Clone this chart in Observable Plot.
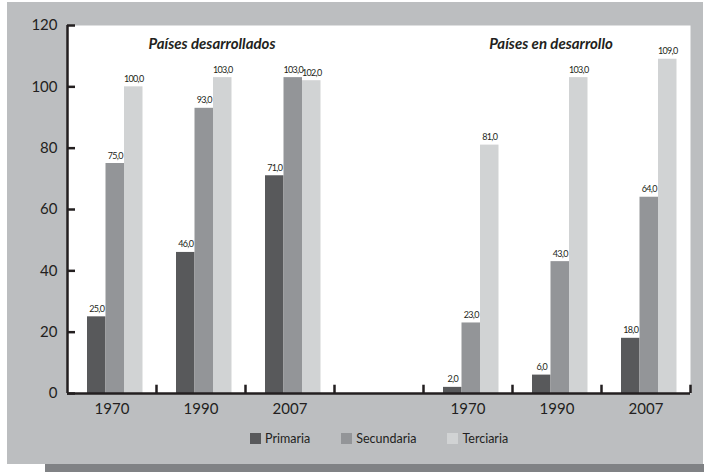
<!DOCTYPE html>
<html>
<head>
<meta charset="utf-8">
<script src="https://cdn.jsdelivr.net/npm/d3@7"></script>
<script src="https://cdn.jsdelivr.net/npm/@observablehq/plot@0.6"></script>
<style>
  html, body { margin: 0; padding: 0; background: #ffffff; }
  #wrap { position: relative; width: 704px; height: 472px; overflow: hidden; font-family: Lato, "Open Sans", sans-serif; }
  #panel { position: absolute; left: 7px; top: 2px; width: 696px; height: 462px; background: #bcbec0; }
  #shadow { position: absolute; left: 45px; top: 464px; width: 659px; height: 8px; background: #808285; }
  #chart { position: absolute; left: 0; top: 0; }
  #chart g[font-size="9"] text { letter-spacing: -0.7px; }
  #legend { position: absolute; left: 250px; top: 431px; display: flex; font-size: 12.5px; color: #231f20; }
  .item { display: flex; align-items: center; margin-right: 31px; }
  .sw { width: 11px; height: 11px; margin-right: 4px; }
</style>
</head>
<body>
<div id="wrap">
  <div id="panel"></div>
  <div id="shadow"></div>
  <div id="chart"></div>
  <div id="legend"></div>
</div>
<script>
// Data
const regions = ["Países desarrollados", "Países en desarrollo"];
const years = ["1970", "1990", "2007"];
const series = ["Primaria", "Secundaria", "Terciaria"];
const colors = ["#58595b", "#939598", "#d1d3d4"];
const primaria   = [25, 46, 71, 2, 6, 18];
const secundaria = [75, 93, 103, 23, 43, 64];
const terciaria  = [100, 103, 102, 81, 103, 109];
const yTicks = [0, 20, 40, 60, 80, 100, 120];

const seriesValues = [primaria, secundaria, terciaria];
const keys = [];
regions.forEach((r, ri) => years.forEach(y => keys.push(r + "|" + y)));
const gapKey = "gap";
const domain = [...keys.slice(0, 3), gapKey, ...keys.slice(3)];
const rows = series.map((s, si) => keys.map((k, i) => ({key: k, series: s, value: seriesValues[si][i]})));

const W = 704, H = 472, mL = 67, mR = 14, mT = 25, mB = 79;
const bw = (W - mL - mR) / domain.length;
const barStart = 20, barW = 18.5;
const fmt = v => v.toFixed(1).replace(".", ",");

const marks = [
  Plot.frame({fill: "white", stroke: null}),
];
rows.forEach((data, si) => {
  const left = barStart + barW * si;
  marks.push(Plot.barY(data, {
    x: "key", y: "value", fill: colors[si],
    insetLeft: left, insetRight: bw - left - barW
  }));
});
rows.forEach((data, si) => {
  const center = barStart + barW * si + barW / 2;
  marks.push(Plot.text(data, {
    x: "key", y: "value", text: d => fmt(d.value),
    dx: center - bw / 2, dy: -5, lineAnchor: "bottom",
    fontSize: 9, fill: "#231f20"
  }));
});
// baseline
marks.push(Plot.ruleY([0], {stroke: "#231f20", strokeWidth: 2.5}));
// group boundary ticks (pointing up)
marks.push(Plot.ruleX(domain, {x: d => d, dx: bw / 2, y1: 0, y2: 2.7, stroke: "#231f20", strokeWidth: 2.5}));
// y axis line
marks.push(Plot.ruleX([domain[0]], {x: d => d, dx: -bw / 2, y1: 0, y2: 120, stroke: "#231f20", strokeWidth: 2.5}));
// inward y ticks
marks.push(Plot.ruleY(yTicks, {y: d => d, insetRight: (W - mL - mR) - 8, stroke: "#231f20", strokeWidth: 2.5}));
// titles
marks.push(Plot.text([regions[0]], {x: () => keys[1], y: () => 114, text: d => d, dx: 11,
  fontSize: 15, fontWeight: "bold", fontStyle: "italic", fill: "#231f20"}));
marks.push(Plot.text([regions[1]], {x: () => keys[4], y: () => 114, text: d => d, dx: -6,
  fontSize: 15, fontWeight: "bold", fontStyle: "italic", fill: "#231f20"}));

const chart = Plot.plot({
  width: W, height: H,
  marginLeft: mL, marginRight: mR, marginTop: mT, marginBottom: mB,
  style: {background: "transparent", fontFamily: "Lato, 'Open Sans', sans-serif", fontSize: "15px", color: "#231f20"},
  x: {domain, padding: 0, tickSize: 0, tickPadding: 10, label: null,
      tickFormat: k => k === gapKey ? "" : k.split("|")[1]},
  y: {domain: [0, 120], ticks: yTicks, tickSize: 0, tickPadding: 10, label: null},
  marks
});
document.getElementById("chart").appendChild(chart);

const legend = document.getElementById("legend");
series.forEach((s, i) => {
  const item = document.createElement("div");
  item.className = "item";
  const sw = document.createElement("div");
  sw.className = "sw";
  sw.style.background = colors[i];
  const t = document.createElement("span");
  t.textContent = s;
  item.appendChild(sw); item.appendChild(t);
  legend.appendChild(item);
});
</script>
</body>
</html>
